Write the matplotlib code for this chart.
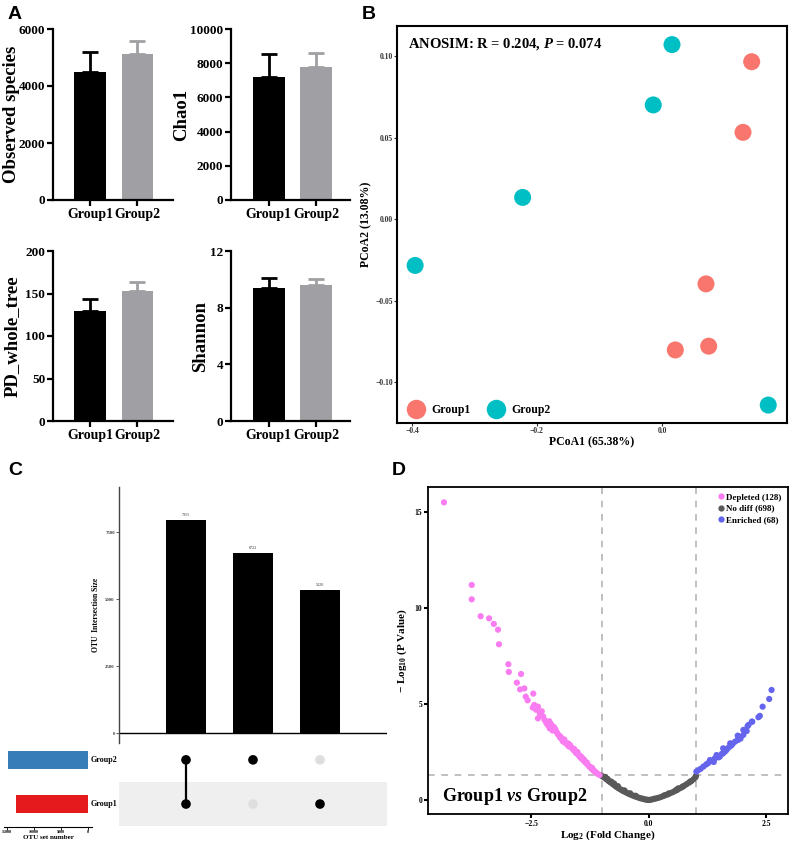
import matplotlib
matplotlib.use('Agg')
import matplotlib.pyplot as plt
from matplotlib.lines import Line2D

W, H = 789, 843

plt.rcParams['font.family'] = ['Liberation Serif', 'DejaVu Serif']
plt.rcParams['font.weight'] = 'bold'
plt.rcParams['axes.labelweight'] = 'bold'
plt.rcParams['mathtext.fontset'] = 'custom'
plt.rcParams['mathtext.rm'] = 'Liberation Serif:bold'
plt.rcParams['mathtext.bf'] = 'Liberation Serif:bold'
plt.rcParams['mathtext.it'] = 'Liberation Serif:bold:italic'

# ---- panel A: alpha diversity ----
groups = ['Group1', 'Group2']
alpha_names = ['Observed species', 'Chao1', 'PD_whole_tree', 'Shannon']
alpha_means = [[4480, 5120], [7200, 7750], [130, 153], [9.4, 9.6]]
alpha_err = [[700, 460], [1320, 830], [13, 11], [0.7, 0.4]]
alpha_ticks = [[0, 2000, 4000, 6000],
               [0, 2000, 4000, 6000, 8000, 10000],
               [0, 50, 100, 150, 200],
               [0, 4, 8, 12]]

# ---- panel B: PCoA ----
pcoa_g1_x = [0.1435, 0.1296, 0.0704, 0.0747, 0.0213]
pcoa_g1_y = [0.0965, 0.0532, -0.0397, -0.0779, -0.0802]
pcoa_g2_x = [0.016, -0.014, -0.223, -0.395, 0.170]
pcoa_g2_y = [0.107, 0.070, 0.0133, -0.0284, -0.114]

# ---- panel C: upset ----
upset_sizes = [7955, 6722, 5320]
upset_group1 = [1, 0, 1]
upset_group2 = [1, 1, 0]
set_names = ['Group1', 'Group2']
set_sizes = [13275, 14677]

# ---- panel D: volcano ----
dep_x = [-4.36, -3.77, -3.77, -3.58, -3.40, -3.30, -3.21, -3.19, -2.99, -2.98,
         -2.72, -2.81, -2.74, -2.65, -2.46, -2.62, -2.58, -2.47, -2.36, -2.32,
         -2.36, -2.22, -2.18, -2.15, -2.11, -2.05, -1.97, -1.93, -1.89, -1.86,
         -1.82, -1.78, -1.74, -1.68, -1.64, -1.61, -1.57, -1.54, -1.50, -1.47,
         -1.44, -1.40, -1.36, -1.33, -1.30, -1.27, -1.23, -1.20, -1.16, -1.12,
         -1.09, -1.05, -2.28, -2.08, -1.95, -1.80, -1.71, -1.59, -1.48, -1.38,
         -1.25, -1.14, -2.40, -2.25, -2.02, -1.88, -1.66, -1.52, -1.42, -1.18,
         -2.44, -2.30, -2.12, -1.99, -1.84, -1.72, -1.56, -1.45, -1.32, -1.21]
dep_y = [15.5, 11.2, 10.45, 9.57, 9.46, 9.17, 8.87, 8.11, 7.07, 6.67,
         6.56, 6.11, 5.76, 5.81, 5.54, 5.38, 5.19, 4.81, 4.86, 4.51,
         4.25, 4.17, 4.00, 3.90, 3.73, 3.62, 3.56, 3.40, 3.25, 3.21,
         3.04, 2.98, 2.90, 2.87, 2.72, 2.61, 2.55, 2.43, 2.36, 2.25,
         2.17, 2.08, 1.98, 1.91, 1.84, 1.75, 1.65, 1.58, 1.50, 1.42,
         1.36, 1.30, 4.62, 3.95, 3.48, 3.15, 2.80, 2.66, 2.30, 2.10,
         1.72, 1.46, 4.70, 4.35, 3.80, 3.30, 2.75, 2.50, 2.20, 1.55,
         4.95, 4.40, 4.10, 3.68, 3.10, 2.95, 2.48, 2.28, 1.95, 1.68]
nodiff_x = [-1.02, -0.98, -0.95, -0.92, -0.90, -0.87, -0.85, -0.82, -0.80, -0.77,
            -0.75, -0.72, -0.70, -0.67, -0.64, -0.60, -0.57, -0.54, -0.50, -0.46,
            -0.42, -0.38, -0.34, -0.30, -0.26, -0.22, -0.18, -0.14, -0.10, -0.06,
            -0.03, 0.00, -0.93, -0.80, -0.66, -0.52, -0.40, -0.28, -0.88, -0.74,
            0.03, 0.07, 0.11, 0.15, 0.20, 0.25, 0.30, 0.35, 0.40, 0.45,
            0.50, 0.55, 0.60, 0.65, 0.70, 0.75, 0.80, 0.85, 0.90, 0.95,
            0.99, 1.00, 0.42, 0.58, 0.72, 0.88, 0.33, 0.62]
nodiff_y = [1.28, 1.22, 1.18, 1.12, 1.08, 1.02, 0.98, 0.93, 0.90, 0.84,
            0.80, 0.75, 0.70, 0.66, 0.60, 0.55, 0.50, 0.46, 0.41, 0.36,
            0.31, 0.27, 0.23, 0.19, 0.16, 0.12, 0.09, 0.07, 0.04, 0.02,
            0.01, 0.00, 1.20, 0.96, 0.72, 0.50, 0.35, 0.22, 1.10, 0.86,
            0.01, 0.03, 0.06, 0.08, 0.11, 0.15, 0.20, 0.25, 0.29, 0.35,
            0.40, 0.46, 0.52, 0.60, 0.66, 0.74, 0.82, 0.90, 0.98, 1.08,
            1.18, 1.25, 0.34, 0.52, 0.70, 0.96, 0.24, 0.60]
enr_x = [2.61, 2.56, 2.42, 2.36, 2.33, 2.20, 2.10, 2.08, 2.01, 1.89,
         1.90, 1.79, 1.72, 1.65, 1.58, 1.51, 1.01, 1.16, 1.30, 1.44,
         1.58, 1.73, 1.90, 2.01, 2.12, 2.19, 1.05, 1.10, 1.22, 1.26,
         1.35, 1.40, 1.48, 1.55, 1.62, 1.68, 1.76, 1.84, 1.95, 1.38]
enr_y = [5.73, 5.26, 4.86, 4.38, 4.31, 4.08, 3.85, 3.59, 3.39, 3.35,
         3.13, 2.95, 2.78, 2.60, 2.43, 2.26, 1.48, 1.74, 2.08, 2.34,
         2.69, 2.95, 3.33, 3.65, 3.91, 4.08, 1.55, 1.62, 1.85, 1.92,
         2.02, 2.16, 2.22, 2.40, 2.52, 2.70, 2.85, 3.05, 3.20, 1.98]


def px_axes(fig, x0, y0, x1, y1):
    return fig.add_axes([x0 / W, 1 - y1 / H, (x1 - x0) / W, (y1 - y0) / H])


def bar_panel(fig, box, name, means, errs, ticks, xlim, label_x):
    ax = px_axes(fig, *box)
    colors = ['black', '#a0a0a4']
    for i in range(2):
        ax.errorbar(i, means[i], yerr=[[0], [errs[i]]], color=colors[i],
                    capsize=6, elinewidth=2, capthick=2, zorder=1)
        ax.bar(i, means[i], width=0.67, color=colors[i], zorder=2)
    ax.set_xlim(*xlim)
    ax.set_ylim(0, ticks[-1])
    ax.set_yticks(ticks)
    ax.set_xticks([0, 1])
    ax.set_xticklabels(groups)
    for s in ['top', 'right']:
        ax.spines[s].set_visible(False)
    for s in ['left', 'bottom']:
        ax.spines[s].set_linewidth(1.6)
    ax.tick_params(width=1.6, length=4, pad=1.5)
    ax.tick_params(axis='y', labelsize=9.5)
    ax.tick_params(axis='x', labelsize=10)
    ax.set_ylabel(name, fontsize=13.5)
    # right edge of the rotated label, in pixels
    x0, x1 = box[0], box[2]
    ax.yaxis.set_label_coords((label_x - x0) / (x1 - x0), 0.5)
    return ax


def draw_a(fig):
    boxes = [(53, 29, 173, 200), (231, 29, 350, 200),
             (53, 251, 173, 421), (231, 251, 350, 421)]
    xlims = [(-0.78, 1.75), (-0.79, 1.71), (-0.78, 1.75), (-0.79, 1.71)]
    label_xs = [20.5, 190, 20.5, 209]
    for i in range(4):
        bar_panel(fig, boxes[i], alpha_names[i], alpha_means[i],
                  alpha_err[i], alpha_ticks[i], xlims[i], label_xs[i])


def draw_b(fig):
    ax = px_axes(fig, 397, 26, 787, 423)
    ax.scatter(pcoa_g1_x, pcoa_g1_y, s=150, color='#F8766D', edgecolors='none')
    ax.scatter(pcoa_g2_x, pcoa_g2_y, s=150, color='#00BFC4', edgecolors='none')
    ax.set_xlim(-0.424, 0.2)
    ax.set_ylim(-0.125, 0.1184)
    ax.set_xticks([-0.4, -0.2, 0.0])
    ax.set_yticks([-0.10, -0.05, 0.0, 0.05, 0.10])
    ax.set_yticklabels(['\u22120.10', '\u22120.05', '0.00', '0.05', '0.10'])
    ax.set_xticklabels(['\u22120.4', '\u22120.2', '0.0'])
    for s in ax.spines.values():
        s.set_linewidth(1.5)
    ax.tick_params(labelsize=5.5, length=2, width=0.8, pad=1, colors='#333333')
    ax.set_xlabel('PCoA1 (65.38%)', fontsize=8.5, labelpad=1)
    ax.set_ylabel('PCoA2 (13.08%)', fontsize=8.5, labelpad=2)
    ax.text(0.027, 0.955, 'ANOSIM: R = 0.204, $P$ = 0.074', transform=ax.transAxes,
            fontsize=10.5, ha='left', va='center')
    handles = [Line2D([], [], ls='none', marker='o', ms=14, color='#F8766D', mec='none'),
               Line2D([], [], ls='none', marker='o', ms=14, color='#00BFC4', mec='none')]
    ax.legend(handles, groups, loc='lower left', ncol=2, frameon=False,
              fontsize=8.5, handletextpad=0.3, columnspacing=1.2,
              borderaxespad=0.2, bbox_to_anchor=(0.0, 0.0))


def draw_c(fig):
    ax = px_axes(fig, 119, 487, 387, 743)
    pos = list(range(len(upset_sizes)))
    ax.bar(pos, upset_sizes, width=0.6, color='black')
    for p, v in zip(pos, upset_sizes):
        ax.text(p, v + 120, str(v), ha='center', va='bottom', fontsize=3,
                fontweight='normal', color='#333333')
    ax.axhline(0, color='black', lw=1)
    ax.set_xlim(-1, 3)
    ax.set_ylim(-373, 9180)
    ax.set_xticks([])
    ax.set_yticks([0, 2500, 5000, 7500])
    for s in ['top', 'right', 'bottom']:
        ax.spines[s].set_visible(False)
    ax.spines['left'].set_color('#444444')
    ax.spines['left'].set_linewidth(1)
    ax.tick_params(labelsize=3.5, length=2, width=0.6, pad=1, colors='#444444')
    ax.set_ylabel('OTU  Intersection Size', fontsize=5.5, labelpad=4)

    mx = px_axes(fig, 119, 740, 387, 827)
    mx.set_xlim(-1, 3)
    mx.set_ylim(-0.52, 1.45)
    mx.axhspan(-0.5, 0.5, color='#efefef', lw=0)
    for p in pos:
        rows = [0, 1]
        flags = [upset_group1[p], upset_group2[p]]
        active = [r for r, f in zip(rows, flags) if f]
        if len(active) > 1:
            mx.plot([p, p], [min(active), max(active)], color='black', lw=1.6)
        for r, f in zip(rows, flags):
            mx.scatter(p, r, s=48, color='black' if f else '#dedede',
                       edgecolors='none', zorder=3)
    mx.axis('off')

    sx = px_axes(fig, 4, 740, 92, 827)
    sx.barh([0, 1], set_sizes, height=0.41, color=['#E41A1C', '#377EB8'])
    sx.set_xlim(15500, -740)
    sx.set_ylim(-0.52, 1.45)
    sx.set_yticks([])
    sx.set_xticks([15000, 10000, 5000, 0])
    for s in ['top', 'right', 'left']:
        sx.spines[s].set_visible(False)
    sx.spines['bottom'].set_linewidth(0.8)
    sx.tick_params(labelsize=3, length=2, width=0.6, pad=0.5)
    sx.set_xlabel('OTU set number', fontsize=5, labelpad=0.5)
    for r, name in enumerate(set_names):
        sx.annotate(name, (0, r), xytext=(2, 0), textcoords='offset points',
                    ha='left', va='center', fontsize=5.8, annotation_clip=False)


def draw_d(fig):
    ax = px_axes(fig, 428, 487, 788, 814)
    ax.axvline(-1, color='#b5b5b5', ls=(0, (4, 4)), lw=1.2, zorder=1)
    ax.axvline(1, color='#b5b5b5', ls=(0, (4, 4)), lw=1.2, zorder=1)
    ax.axhline(1.3, color='#b5b5b5', ls=(0, (4, 4)), lw=1.2, zorder=1)
    ax.scatter(nodiff_x, nodiff_y, s=20, color='#595959', edgecolors='none', zorder=2)
    ax.scatter(dep_x, dep_y, s=20, color='#F97CF0', edgecolors='none', zorder=2)
    ax.scatter(enr_x, enr_y, s=20, color='#6464EC', edgecolors='none', zorder=2)
    ax.set_xlim(-4.70, 2.96)
    ax.set_ylim(-0.73, 16.3)
    ax.set_xticks([-2.5, 0.0, 2.5])
    ax.set_xticklabels(['\u22122.5', '0.0', '2.5'])
    ax.set_yticks([0, 5, 10, 15])
    for s in ax.spines.values():
        s.set_linewidth(1.3)
    ax.tick_params(labelsize=5.5, length=3, width=1.5, pad=1)
    ax.set_xlabel('Log$_2$ (Fold Change)', fontsize=8, labelpad=1)
    ax.set_ylabel('$-$ Log$_{10}$ (P Value)', fontsize=8, labelpad=4)
    handles = [Line2D([], [], ls='none', marker='o', ms=4.5, color=c, mec='none')
               for c in ['#F97CF0', '#595959', '#6464EC']]
    ax.legend(handles, ['Depleted (128)', 'No diff (698)', 'Enriched (68)'],
              loc='upper right', frameon=False, fontsize=6.5, handletextpad=0.1,
              labelspacing=0.3, borderaxespad=0.3, handlelength=1.0)
    ax.text(0.04, 0.055, 'Group1 $vs$ Group2', transform=ax.transAxes,
            fontsize=13, ha='left', va='center')


fig = plt.figure(figsize=(W / 100, H / 100), dpi=100)
draw_a(fig)
draw_b(fig)
draw_c(fig)
draw_d(fig)

letter_font = dict(fontsize=14, fontweight='bold', family='Liberation Sans', va='top')
fig.text(8 / W, 1 - 6 / H, 'A', **letter_font)
fig.text(362 / W, 1 - 6 / H, 'B', **letter_font)
fig.text(8 / W, 1 - 462 / H, 'C', **letter_font)
fig.text(392 / W, 1 - 462 / H, 'D', **letter_font)

fig.savefig('out.png', dpi=100)
